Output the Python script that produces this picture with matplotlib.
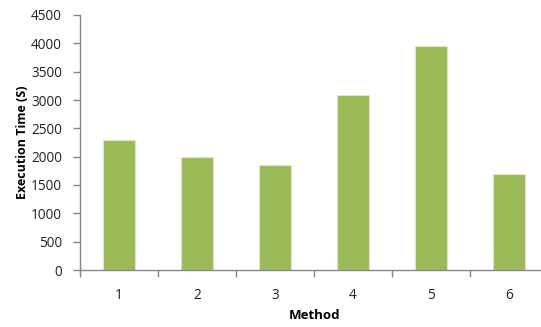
import matplotlib
matplotlib.use("Agg")
import matplotlib.pyplot as plt

methods = ["1", "2", "3", "4", "5", "6"]
exec_time = [2300, 2000, 1850, 3090, 3960, 1700]
y_ticks = [0, 500, 1000, 1500, 2000, 2500, 3000, 3500, 4000, 4500]

plt.rcParams['font.family'] = ['Open Sans', 'DejaVu Sans']

fig = plt.figure(figsize=(5.41, 3.27), dpi=100)
ax = fig.add_axes([80 / 541, 1 - 270 / 327, 468 / 541, 255 / 327])

x = list(range(len(methods)))
ax.bar(x, exec_time, width=0.4, color="#9BBB59", edgecolor="#DDE8C6", linewidth=0.8)

ax.set_xlim(-0.5, len(methods) - 0.5)
ax.set_ylim(0, 4500)
ax.set_yticks(y_ticks)
ax.set_yticklabels([str(v) for v in y_ticks])
ax.set_xticks([i - 0.5 for i in range(len(methods) + 1)], minor=False)
ax.set_xticklabels([])
ax.set_xticks(x, minor=True)
ax.set_xticklabels(methods, minor=True)

axis_color = "#868686"
for side in ["top", "right"]:
    ax.spines[side].set_visible(False)
for side in ["left", "bottom"]:
    ax.spines[side].set_color(axis_color)
    ax.spines[side].set_linewidth(1.0)

ax.tick_params(axis="y", which="major", direction="out", length=5, width=1,
               color=axis_color, labelsize=9.8, labelcolor="#222222", pad=8)
ax.tick_params(axis="x", which="major", direction="out", length=5, width=1,
               color=axis_color)
ax.tick_params(axis="x", which="minor", length=0, labelsize=9.8,
               labelcolor="#222222", pad=13)

ax.set_xlabel("Method", fontsize=9.5, fontweight="bold", labelpad=4)
ax.set_ylabel("Execution Time (S)", fontsize=9, fontweight="bold", labelpad=1)

fig.savefig("out.png", dpi=100)
